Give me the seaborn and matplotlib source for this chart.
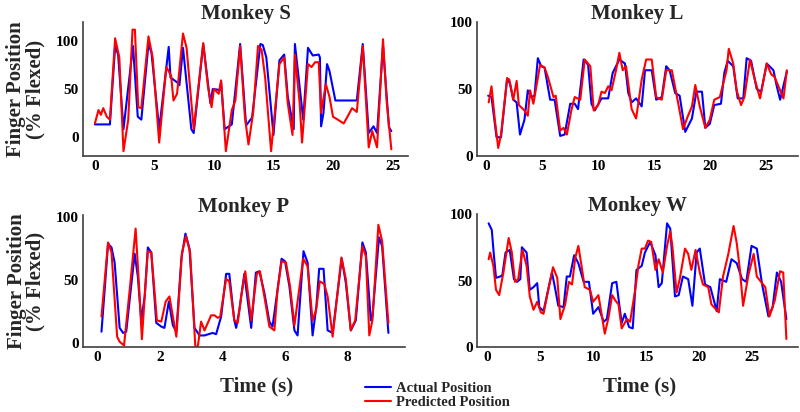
import numpy as np
import pandas as pd
import matplotlib
matplotlib.use('Agg')
import matplotlib.pyplot as plt
import seaborn as sns

# Monkey S
s_actual_t = [0, 1.26, 1.7, 1.95, 2.4, 3.2, 3.6, 3.9, 4.5, 4.75, 5.4, 6.2, 6.35, 6.9, 7.1,
              7.4, 8.1, 8.3, 9.1, 9.7, 9.9, 10.5, 10.6, 10.9, 11.5, 12.2, 12.7, 13.2, 13.9, 14.1,
              14.4, 15.0, 15.5, 15.9, 16.2, 16.7, 16.8, 17.2, 17.5, 17.9, 18.3, 18.8, 18.9, 19.0, 19.2,
              19.5, 19.7, 20.2, 22.0, 22.5, 23.0, 23.4, 23.7, 24.2, 24.7, 24.9]
s_actual = [13, 13, 95, 86, 8, 95, 21, 18, 97, 88, 8, 94, 62, 57, 54,
            93, 8, 4, 97, 35, 50, 49, 57, 8, 13, 97, 12, 20, 97, 96,
            83, 2, 80, 86, 42, 8, 97, 52, 18, 93, 85, 86, 83, 11, 25,
            76, 69, 38, 38, 97, 4, 11, 4, 95, 10, 6]
s_pred_t = [0, 0.3, 0.5, 0.7, 1.0, 1.26, 1.7, 2.05, 2.4, 2.8, 3.16, 3.36, 3.64, 3.9, 4.5,
            4.85, 5.4, 6.0, 6.4, 6.6, 6.9, 7.4, 7.7, 8.3, 9.1, 9.5, 9.8, 10.0, 10.4, 10.6,
            11.0, 11.5, 11.8, 12.2, 12.6, 12.9, 13.3, 13.7, 14.0, 14.3, 14.8, 15.5, 15.9, 16.2, 16.6,
            16.8, 17.2, 17.4, 17.9, 18.2, 18.5, 18.8, 19.0, 19.4, 19.7, 20.0, 20.4, 20.9, 21.3, 21.6,
            22.0, 22.5, 23.0, 23.3, 23.7, 24.2, 24.5, 24.9]
s_pred = [14, 28, 23, 30, 21, 18, 103, 83, -15, 18, 112, 112, 31, 30, 105,
          83, -6, 73, 64, 38, 45, 108, 93, 8, 98, 52, 31, 50, 45, 59,
          -15, 28, 38, 95, 21, -8, 26, 95, 91, 62, -15, 76, 83, 35, 2,
          86, 35, -6, 76, 73, 78, 78, 25, 55, 42, 21, 18, 14, 23, 30,
          26, 95, -11, 6, -11, 102, 38, -13]

# Monkey L
l_actual_t = [0.15, 0.45, 0.9, 1.3, 1.85, 2.1, 2.4, 2.7, 3.0, 3.4, 3.7, 4.0, 4.3, 4.6, 4.9,
              5.2, 5.7, 6.1, 6.6, 7.0, 7.5, 7.9, 8.2, 8.7, 9.1, 9.4, 9.7, 10.3, 10.9, 11.3,
              11.9, 12.4, 12.7, 13.0, 13.4, 13.9, 14.2, 14.8, 15.2, 15.7, 16.1, 16.4, 16.9, 17.3, 17.8,
              18.4, 18.8, 19.3, 19.6, 20.0, 20.4, 21.0, 21.3, 21.6, 22.1, 22.5, 23.0, 23.3, 23.7, 24.2,
              24.6, 25.1, 25.7, 26.0, 26.3, 26.9]
l_actual = [45, 44, 14, 14, 58, 54, 42, 40, 16, 27, 49, 44, 45, 73, 67,
            66, 42, 42, 15, 16, 39, 39, 35, 72, 68, 39, 34, 43, 43, 62,
            72, 69, 47, 40, 43, 37, 64, 64, 42, 44, 67, 64, 47, 45, 18,
            28, 48, 48, 21, 24, 38, 39, 62, 71, 67, 43, 43, 73, 71, 50,
            48, 69, 64, 52, 42, 63]
l_pred_t = [0.2, 0.45, 0.75, 1.05, 1.3, 1.85, 2.05, 2.4, 2.7, 2.9, 3.4, 3.7, 3.9, 4.2, 4.8,
            5.2, 5.5, 6.0, 6.2, 6.6, 6.9, 7.2, 7.6, 7.9, 8.4, 8.8, 9.3, 9.6, 10.0, 10.3,
            10.6, 10.9, 11.2, 11.6, 11.9, 12.2, 12.5, 13.0, 13.4, 13.9, 14.3, 14.8, 15.2, 15.7, 16.1,
            16.6, 17.2, 17.6, 18.0, 18.4, 18.7, 19.1, 19.6, 20.0, 20.4, 20.9, 21.5, 21.7, 22.1, 22.4,
            22.8, 23.1, 23.6, 24.0, 24.5, 25.1, 25.5, 25.8, 26.1, 26.6, 26.9]
l_pred = [40, 52, 27, 6, 16, 58, 57, 42, 56, 38, 34, 30, 49, 39, 68,
          66, 59, 44, 45, 19, 21, 16, 34, 44, 42, 72, 67, 34, 38, 48,
          47, 52, 49, 64, 77, 64, 67, 35, 28, 57, 72, 72, 44, 42, 64,
          64, 38, 20, 29, 37, 53, 37, 21, 27, 42, 44, 64, 80, 69, 49,
          38, 44, 72, 58, 43, 69, 61, 59, 53, 43, 64]

# Monkey P
p_actual_t = [0.14, 0.25, 0.35, 0.46, 0.56, 0.72, 0.83, 0.93, 1.2, 1.3, 1.41, 1.52, 1.62, 1.73, 1.89,
              2.05, 2.15, 2.29, 2.42, 2.53, 2.69, 2.82, 2.95, 3.11, 3.27, 3.43, 3.69, 3.8, 3.96, 4.12,
              4.22, 4.38, 4.44, 4.54, 4.7, 4.92, 5.07, 5.18, 5.34, 5.5, 5.6, 5.76, 5.89, 6.0, 6.14,
              6.3, 6.4, 6.59, 6.72, 6.88, 7.0, 7.09, 7.23, 7.36, 7.52, 7.81, 7.94, 8.1, 8.26, 8.47,
              8.58, 8.74, 8.79, 9.0, 9.1, 9.3]
p_actual = [9, 45, 79, 76, 64, 12, 8, 9, 71, 53, 18, 37, 76, 72, 16,
            13, 12, 33, 14, 9, 67, 87, 75, 12, 6, 6, 8, 7, 21, 55,
            55, 18, 12, 26, 55, 12, 56, 57, 40, 17, 13, 42, 67, 65, 45,
            10, 6, 73, 64, 6, 29, 59, 59, 10, 8, 67, 48, 10, 18, 80,
            72, 18, 21, 84, 77, 8]
p_pred_t = [0.14, 0.35, 0.46, 0.64, 0.72, 0.86, 1.04, 1.23, 1.34, 1.43, 1.52, 1.62, 1.73, 1.91, 2.05,
            2.19, 2.31, 2.53, 2.71, 2.84, 2.97, 3.14, 3.22, 3.32, 3.43, 3.64, 3.75, 3.85, 3.93, 4.12,
            4.22, 4.38, 4.49, 4.6, 4.73, 4.92, 5.1, 5.2, 5.34, 5.5, 5.66, 5.76, 5.89, 6.03, 6.16,
            6.3, 6.58, 6.72, 6.88, 6.99, 7.11, 7.25, 7.36, 7.52, 7.8, 7.94, 8.1, 8.24, 8.47, 8.58,
            8.69, 8.79, 8.98, 9.1, 9.3]
p_pred = [21, 80, 72, 5, 1, -2, 42, 91, 45, 3, 37, 73, 72, 18, 17,
          33, 37, 5, 72, 85, 72, -5, -2, 17, 10, 22, 22, 20, 21, 51,
          49, 18, 16, 37, 57, 18, 55, 57, 37, 13, 10, 42, 65, 64, 45,
          14, 67, 61, 18, 26, 49, 47, 37, 5, 68, 51, 10, 18, 77, 69,
          6, 18, 94, 81, 16]

# Monkey W
w_actual_t = [0.1, 0.4, 0.6, 0.8, 1.2, 1.4, 1.7, 2.1, 2.5, 2.8, 3.1, 3.25, 3.7, 4.0, 4.35,
              4.7, 4.9, 5.3, 5.6, 6.1, 6.4, 6.7, 7.2, 7.5, 7.8, 8.2, 8.6, 9.1, 9.6, 10.0,
              10.5, 11.0, 11.3, 11.8, 12.2, 12.7, 13.0, 13.4, 13.75, 14.1, 14.6, 14.9, 15.4, 15.9, 16.2,
              16.5, 17.0, 17.3, 17.75, 18.1, 18.5, 19.0, 19.4, 19.8, 20.1, 20.6, 21.1, 21.7, 22.0, 22.6,
              23.1, 23.6, 24.1, 24.5, 25.0, 25.5, 26.0, 26.6, 27.0, 27.4, 27.8, 28.3]
w_actual = [93, 88, 69, 52, 53, 54, 71, 73, 51, 49, 51, 75, 71, 43, 45,
            48, 30, 27, 38, 56, 44, 31, 30, 53, 53, 69, 63, 49, 49, 25,
            30, 19, 21, 48, 49, 18, 25, 15, 14, 58, 61, 71, 79, 69, 45,
            48, 93, 89, 38, 39, 53, 51, 31, 71, 74, 47, 45, 27, 51, 49,
            66, 63, 51, 49, 76, 74, 47, 23, 30, 56, 49, 21]
w_pred_t = [0.1, 0.25, 0.55, 0.8, 1.1, 1.5, 2.0, 2.3, 2.6, 2.9, 3.3, 3.7, 4.0, 4.35, 4.7,
            5.05, 5.3, 5.8, 6.2, 6.6, 6.9, 7.35, 7.7, 8.0, 8.3, 8.6, 8.9, 9.2, 9.7, 10.0,
            10.5, 10.75, 11.1, 11.45, 11.8, 12.1, 12.4, 12.7, 13.2, 13.5, 14.0, 14.3, 14.6, 14.9, 15.2,
            15.5, 15.9, 16.2, 16.6, 17.0, 17.3, 17.5, 17.9, 18.2, 18.7, 19.0, 19.3, 19.7, 20.1, 20.4,
            20.9, 21.2, 21.9, 22.3, 22.8, 23.3, 23.6, 23.9, 24.2, 24.7, 25.2, 25.5, 26.0, 26.3, 26.7,
            27.2, 27.7, 28.0, 28.3]
w_pred = [66, 71, 61, 43, 39, 56, 82, 71, 49, 51, 73, 61, 38, 28, 34,
          26, 25, 45, 60, 52, 21, 32, 49, 47, 67, 76, 61, 45, 43, 34,
          39, 27, 10, 22, 39, 35, 32, 14, 21, 19, 44, 62, 74, 74, 80,
          79, 58, 66, 56, 76, 87, 76, 41, 51, 74, 70, 58, 73, 56, 47,
          45, 32, 26, 53, 70, 91, 78, 58, 31, 54, 70, 53, 48, 45, 23,
          35, 57, 56, 6]

sns.set_style('white')
plt.rcParams['font.family'] = ['Liberation Serif', 'DejaVu Serif']
plt.rcParams['font.weight'] = 'bold'

W, H = 800, 412
fig = plt.figure(figsize=(W / 100, H / 100), dpi=100)


def px_axes(x0, y0, x1, y1):
    return fig.add_axes([x0 / W, 1 - y1 / H, (x1 - x0) / W, (y1 - y0) / H])


panels = [
    ('Monkey S', s_actual_t, s_actual, s_pred_t, s_pred, (83, 22, 408, 156), (-1, 26.3), (-20, 120), [0, 5, 10, 15, 20, 25], True, False),
    ('Monkey L', l_actual_t, l_actual, l_pred_t, l_pred, (477, 22, 798, 156), (-0.85, 27.9), (0, 100), [0, 5, 10, 15, 20, 25], False, False),
    ('Monkey P', p_actual_t, p_actual, p_pred_t, p_pred, (83, 215, 405, 347), (-0.45, 9.83), (-3.2, 101.8), [0, 2, 4, 6, 8], True, True),
    ('Monkey W', w_actual_t, w_actual, w_pred_t, w_pred, (477, 214, 798, 347), (-1, 29.4), (0, 100), [0, 5, 10, 15, 20, 25], False, True),
]

handles = None
for title, at, av, pt, pv, box, xl, yl, xt, ylab, xlab in panels:
    ax = px_axes(*box)
    sns.lineplot(x=at, y=av, ax=ax, color='#0000ff', lw=1.5, estimator=None, sort=False, label='Actual Position')
    sns.lineplot(x=pt, y=pv, ax=ax, color='#ff0000', lw=1.5, estimator=None, sort=False, label='Predicted Position')
    handles, labels = ax.get_legend_handles_labels()
    ax.get_legend().remove()
    ax.set_xlim(*xl)
    ax.set_ylim(*yl)
    ax.set_xticks(xt)
    ax.set_yticks([0, 50, 100])
    sns.despine(ax=ax)
    for sp in ['left', 'bottom']:
        ax.spines[sp].set_color('#404040')
        ax.spines[sp].set_linewidth(1.2)
    ax.tick_params(direction='in', length=3, width=1, colors='#404040', labelcolor='black',
                   labelsize=11, pad=3)
    ax.set_title(title, fontsize=15, fontweight='bold', pad=2)
    if ylab:
        ax.set_ylabel('Finger Position\n(% Flexed)', fontsize=15, fontweight='bold', linespacing=0.95)
        ax.yaxis.set_label_coords(-0.115, 0.5)
    else:
        ax.set_ylabel('')
    if xlab:
        ax.set_xlabel('Time (s)', fontsize=15, fontweight='bold')
        ax.xaxis.set_label_coords(0.54 if ylab else 0.505, -0.225)
    else:
        ax.set_xlabel('')

fig.legend(handles, ['Actual Position', 'Predicted Position'], loc='upper left',
           bbox_to_anchor=(365 / W, 1 - 382 / H), frameon=False, fontsize=10.5,
           handlelength=1.8, handletextpad=0.3, labelspacing=0.05, borderpad=0, borderaxespad=0)

fig.savefig('out.png', dpi=100)
